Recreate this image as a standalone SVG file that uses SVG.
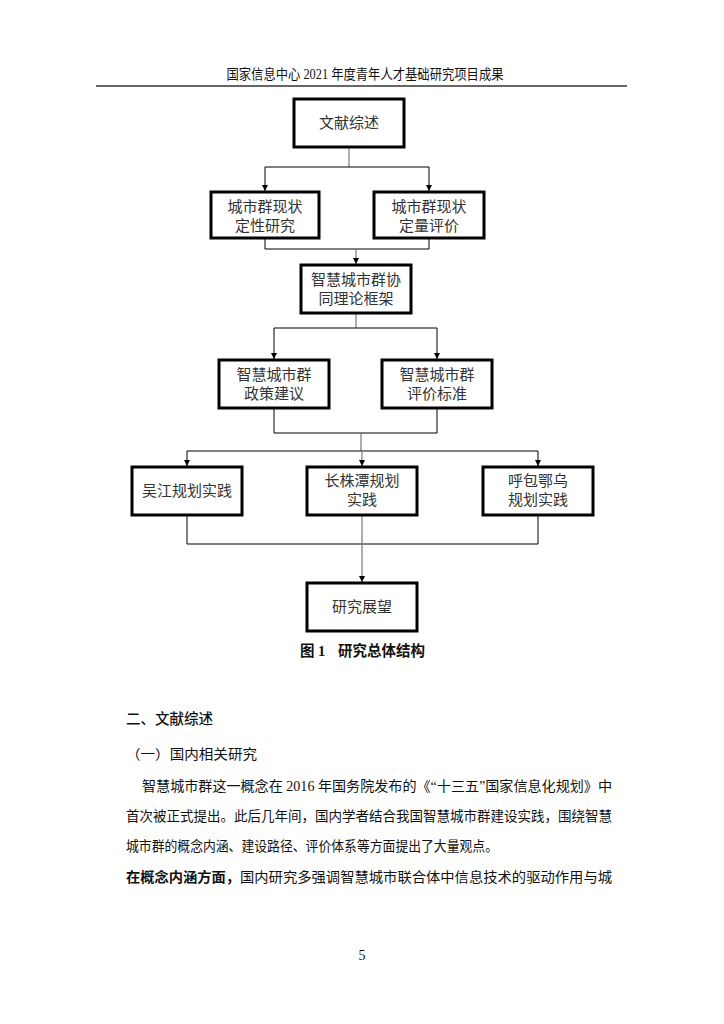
<svg xmlns="http://www.w3.org/2000/svg" width="724" height="1024" viewBox="0 0 724 1024">
<style>
.box{fill:#fff;stroke:#000;stroke-width:3}
.bt{font-family:"Noto Sans CJK SC",sans-serif;font-size:15px;fill:#333;text-anchor:middle}
.c{fill:none;stroke:#000;stroke-width:1}
.cg{fill:none;stroke:#7a7a7a;stroke-width:1.2}
.body{font-family:"Liberation Serif","Noto Sans CJK SC",serif;font-size:14px;fill:#111}
</style>
<defs>
<marker id="ah" markerWidth="6" markerHeight="6" refX="6" refY="3" orient="auto" markerUnits="userSpaceOnUse" viewBox="0 0 6 6">
<path d="M0,0 L6,3 L0,6 Z" fill="#000"/>
</marker>
</defs>
<rect width="724" height="1024" fill="#fff"/>
<g id="header">
<text x="365" y="79" class="body" font-size="13.5" text-anchor="middle" textLength="277" lengthAdjust="spacingAndGlyphs">国家信息中心 2021 年度青年人才基础研究项目成果</text>
<line x1="96" y1="86" x2="627" y2="86" stroke="#333" stroke-width="1.3"/>
</g>
<g id="connectors">
<line class="cg" x1="349" y1="147" x2="349" y2="167"/>
<line class="c" x1="265" y1="167" x2="429" y2="167"/>
<line class="c" x1="265" y1="167" x2="265" y2="191" marker-end="url(#ah)"/>
<line class="c" x1="429" y1="167" x2="429" y2="191" marker-end="url(#ah)"/>
<polyline class="c" points="265,238 265,249 429,249 429,238"/>
<line class="cg" x1="356" y1="249" x2="356" y2="264" marker-end="url(#ah)"/>
<line class="cg" x1="356" y1="313" x2="356" y2="328"/>
<line class="c" x1="274" y1="328" x2="437" y2="328"/>
<line class="c" x1="274" y1="328" x2="274" y2="359" marker-end="url(#ah)"/>
<line class="c" x1="437" y1="328" x2="437" y2="359" marker-end="url(#ah)"/>
<polyline class="c" points="274,408 274,433 437,433 437,408"/>
<line class="cg" x1="361" y1="433" x2="361" y2="451"/>
<line class="c" x1="187" y1="451" x2="538" y2="451"/>
<line class="c" x1="187" y1="451" x2="187" y2="466" marker-end="url(#ah)"/>
<line class="c" x1="538" y1="451" x2="538" y2="466" marker-end="url(#ah)"/>
<line class="cg" x1="362" y1="451" x2="362" y2="466" marker-end="url(#ah)"/>
<polyline class="c" points="187,515 187,544 538,544 538,515"/>
<line class="cg" x1="362" y1="515" x2="362" y2="582" marker-end="url(#ah)"/>
</g>
<g id="n1"><rect class="box" x="294" y="99" width="110" height="48"/><text class="bt" x="349" y="128">文献综述</text></g>
<g id="n2"><rect class="box" x="211" y="192" width="108" height="46"/><text class="bt" x="265" y="212">城市群现状</text><text class="bt" x="265" y="231">定性研究</text></g>
<g id="n3"><rect class="box" x="374" y="192" width="110" height="46"/><text class="bt" x="429" y="212">城市群现状</text><text class="bt" x="429" y="231">定量评价</text></g>
<g id="n4"><rect class="box" x="301" y="265" width="110" height="48"/><text class="bt" x="356" y="285">智慧城市群协</text><text class="bt" x="356" y="304">同理论框架</text></g>
<g id="n5"><rect class="box" x="219" y="360" width="110" height="48"/><text class="bt" x="274" y="380">智慧城市群</text><text class="bt" x="274" y="399">政策建议</text></g>
<g id="n6"><rect class="box" x="382" y="360" width="110" height="48"/><text class="bt" x="437" y="380">智慧城市群</text><text class="bt" x="437" y="399">评价标准</text></g>
<g id="n7"><rect class="box" x="132" y="467" width="110" height="48"/><text class="bt" x="187" y="496">吴江规划实践</text></g>
<g id="n8"><rect class="box" x="307" y="467" width="110" height="48"/><text class="bt" x="362" y="486">长株潭规划</text><text class="bt" x="362" y="505">实践</text></g>
<g id="n9"><rect class="box" x="483" y="467" width="110" height="48"/><text class="bt" x="538" y="486">呼包鄂乌</text><text class="bt" x="538" y="505">规划实践</text></g>
<g id="n10"><rect class="box" x="307" y="583" width="110" height="48"/><text class="bt" x="362" y="612">研究展望</text></g>
<g id="caption" font-family="Liberation Serif,'Noto Sans CJK SC',serif" font-weight="bold" font-size="14.5" fill="#111">
<text x="300" y="656">图 1</text>
<text x="338" y="656" textLength="87" lengthAdjust="spacingAndGlyphs">研究总体结构</text>
</g>
<g id="text">
<text x="126" y="724" font-family="'Noto Sans CJK SC',sans-serif" font-size="14.5" font-weight="500" fill="#111" textLength="87" lengthAdjust="spacingAndGlyphs">二、文献综述</text>
<text x="126" y="759" font-family="'Noto Sans CJK SC',sans-serif" font-size="13.5" fill="#111" textLength="131" lengthAdjust="spacingAndGlyphs">（一）国内相关研究</text>
<text class="body" x="142" y="791" textLength="470" lengthAdjust="spacingAndGlyphs">智慧城市群这一概念在 2016 年国务院发布的《“十三五”国家信息化规划》中</text>
<text class="body" x="126" y="821" textLength="486" lengthAdjust="spacingAndGlyphs">首次被正式提出。此后几年间，国内学者结合我国智慧城市群建设实践，围绕智慧</text>
<text class="body" x="126" y="851" textLength="372" lengthAdjust="spacingAndGlyphs">城市群的概念内涵、建设路径、评价体系等方面提出了大量观点。</text>
<text class="body" x="126" y="882" font-weight="bold" textLength="114" lengthAdjust="spacingAndGlyphs">在概念内涵方面，</text>
<text class="body" x="240" y="882" textLength="372" lengthAdjust="spacingAndGlyphs">国内研究多强调智慧城市联合体中信息技术的驱动作用与城</text>
<text x="362" y="960" font-family="'Liberation Serif',serif" font-size="14" fill="#111" text-anchor="middle">5</text>
</g>
</svg>
